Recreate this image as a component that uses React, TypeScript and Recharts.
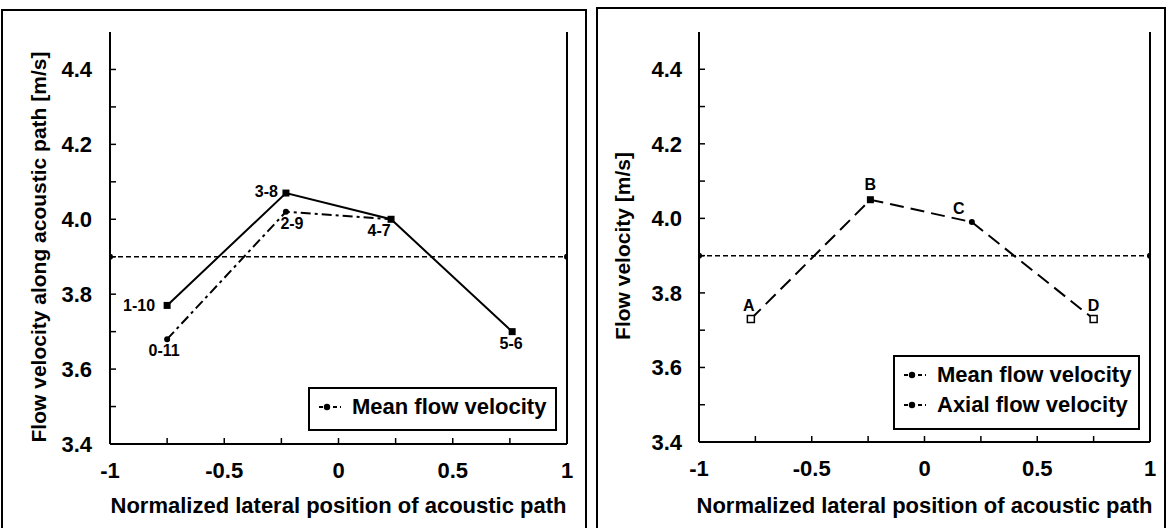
import React from "react";
import { LineChart, Line, XAxis, YAxis, Legend, LabelList } from "recharts";

// left panel: the six acoustic paths of the 12-transducer meter
const pathX = [-0.75, -0.23, 0.23, 0.76];
const solidPaths = ["1-10", "3-8", "4-7", "5-6"];
const solidVel = [3.77, 4.07, 4.0, 3.7];
const dashPathX = [-0.75, -0.23, 0.23];
const dashPaths = ["0-11", "2-9", ""];
const dashVel = [3.68, 4.02, 4.0];

// right panel: points A-D
const pointX = [-0.77, -0.24, 0.21, 0.75];
const pointNames = ["A", "B", "C", "D"];
const axialVel = [3.73, 4.05, 3.99, 3.73];

// mean flow velocity (both panels)
const meanX = [-1, 1];
const meanVel = [3.9, 3.9];

const xTicks = [-1, -0.75, -0.5, -0.25, 0, 0.25, 0.5, 0.75, 1];
const xLabelTicks = [-1, -0.5, 0, 0.5, 1];
const yTicks = [3.4, 3.5, 3.6, 3.7, 3.8, 3.9, 4.0, 4.1, 4.2, 4.3, 4.4];
const yLabelTicks = [3.4, 3.6, 3.8, 4.0, 4.2, 4.4];
const legendOrder = ["Mean flow velocity", "Axial flow velocity"];

const FONT = '"Liberation Sans", Arial, sans-serif';

const solidData = pathX.map((x, i) => ({ x, v: solidVel[i], name: solidPaths[i] }));
const dashData = dashPathX.map((x, i) => ({ x, v: dashVel[i], name: dashPaths[i] }));
const axialData = pointX.map((x, i) => ({ x, v: axialVel[i], name: pointNames[i] }));
const meanData = meanX.map((x, i) => ({ x, v: meanVel[i], name: "" }));

// where each point label sits relative to its marker
const labelPlace: Record<string, { dx: number; dy: number; anchor: string }> = {
  "1-10": { dx: -12, dy: 6, anchor: "end" },
  "0-11": { dx: -3, dy: 17, anchor: "middle" },
  "3-8": { dx: -8, dy: 4, anchor: "end" },
  "2-9": { dx: 6, dy: 17, anchor: "middle" },
  "4-7": { dx: -12, dy: 17, anchor: "middle" },
  "5-6": { dx: -1, dy: 17, anchor: "middle" },
  A: { dx: -2, dy: -8, anchor: "middle" },
  B: { dx: 0, dy: -10, anchor: "middle" },
  C: { dx: -13, dy: -8, anchor: "middle" },
  D: { dx: 0, dy: -8, anchor: "middle" },
};

const markerOf: Record<string, string> = {
  "1-10": "square",
  "3-8": "square",
  "4-7": "square",
  "5-6": "square",
  "0-11": "dot",
  "2-9": "dot",
  A: "open",
  B: "square",
  C: "dot",
  D: "open",
};

const Marker = (p: any) => {
  const { cx, cy, payload, index } = p;
  const kind = markerOf[payload?.name] ?? "none";
  if (cx == null || cy == null || kind === "none") return <g key={`m-${index}`} />;
  if (kind === "square")
    return <rect key={`m-${index}`} x={cx - 3.5} y={cy - 3.5} width={7} height={7} fill="#000" />;
  if (kind === "open")
    return (
      <rect key={`m-${index}`} x={cx - 3.5} y={cy - 3.5} width={7} height={7} fill="#fff" stroke="#000" strokeWidth={1.5} />
    );
  return <circle key={`m-${index}`} cx={cx} cy={cy} r={3} fill="#000" />;
};

const PointLabel = (p: any) => {
  const place = labelPlace[p.value];
  if (!place) return null;
  return (
    <text
      x={p.x + place.dx}
      y={p.y + place.dy}
      textAnchor={place.anchor as any}
      fontFamily={FONT}
      fontSize={16}
      fontWeight={700}
      fill="#000"
    >
      {p.value}
    </text>
  );
};

const LegendBox = (p: any) => {
  const items = (p.payload || [])
    .filter((e: any) => e.type !== "none")
    .sort((a: any, b: any) => legendOrder.indexOf(a.value) - legendOrder.indexOf(b.value));
  return (
    <div
      style={{
        width: p.boxW,
        height: p.boxH,
        boxSizing: "border-box",
        border: "2px solid #000",
        background: "#fff",
        padding: "3px 0 0 8px",
        fontFamily: FONT,
        fontSize: 22,
        fontWeight: 700,
        color: "#000",
        whiteSpace: "nowrap",
      }}
    >
      {items.map((it: any) => (
        <div key={it.value} style={{ display: "flex", alignItems: "center", height: 30 }}>
          <svg width={24} height={12} style={{ marginRight: 10 }}>
            <line x1={1} x2={23} y1={6} y2={6} stroke="#000" strokeWidth={2} strokeDasharray="4 3" />
            <circle cx={9} cy={6} r={3.2} fill="#000" />
          </svg>
          <span>{it.value}</span>
        </div>
      ))}
    </div>
  );
};

const fmtX = (v: number) => (xLabelTicks.includes(v) ? String(v) : "");
const fmtY = (v: number) => (yLabelTicks.some((t) => Math.abs(t - v) < 1e-9) ? v.toFixed(1) : "");

const tickStyle = { fill: "#000", fontSize: 22, fontWeight: 700, fontFamily: FONT };
const axisLine = { stroke: "#000", strokeWidth: 2 };
const tickLine = { stroke: "#000", strokeWidth: 1.5 };

const yTitle = (text: string, bx: number) => (p: any) => {
  const vb = p.viewBox ?? { x: 0, y: 32, width: 110, height: 412 };
  const cx = vb.x + bx;
  const cy = vb.y + vb.height / 2 + 9;
  return (
    <text
      x={cx}
      y={cy}
      transform={`rotate(-90, ${cx}, ${cy})`}
      textAnchor="middle"
      fontFamily={FONT}
      fontSize={21}
      fontWeight={700}
      fill="#000"
    >
      {text}
    </text>
  );
};

const xTitle = (dy: number) => (p: any) => {
  const vb = p.viewBox ?? { x: 110, y: 444, width: 457, height: 84 };
  return (
    <text
      x={vb.x + vb.width / 2}
      y={vb.y + dy}
      textAnchor="middle"
      fontFamily={FONT}
      fontSize={22}
      fontWeight={700}
      fill="#000"
    >
      Normalized lateral position of acoustic path
    </text>
  );
};

function LeftChart() {
  return (
    <LineChart width={585} height={528} margin={{ top: 32, right: 0, bottom: 0, left: 0 }}>
      <XAxis
        xAxisId="b"
        type="number"
        dataKey="x"
        domain={[-1, 1]}
        ticks={xTicks}
        interval={0}
        tickFormatter={fmtX}
        height={84}
        tickSize={-6}
        tickMargin={24}
        tick={tickStyle}
        axisLine={axisLine}
        tickLine={tickLine}
        allowDataOverflow
        label={xTitle(69)}
      />
      <XAxis xAxisId="t" orientation="top" type="number" domain={[-1, 1]} height={0} tick={false} tickLine={false} axisLine={axisLine} />
      <YAxis
        yAxisId="l"
        type="number"
        domain={[3.4, 4.5]}
        ticks={yTicks}
        interval={0}
        tickFormatter={fmtY}
        width={110}
        tickSize={-6}
        tickMargin={24}
        tick={tickStyle}
        axisLine={axisLine}
        tickLine={tickLine}
        allowDataOverflow
        label={yTitle("Flow velocity along acoustic path [m/s]", 46)}
      />
      <YAxis yAxisId="r" orientation="right" type="number" domain={[3.4, 4.5]} width={18} tick={false} tickLine={false} axisLine={axisLine} />
      <Line
        xAxisId="b"
        yAxisId="l"
        data={meanData}
        dataKey="v"
        name="Mean flow velocity"
        stroke="#000"
        strokeWidth={1.5}
        strokeDasharray="5 3"
        dot={{ r: 3, fill: "#000", stroke: "none" }}
        isAnimationActive={false}
      />
      <Line
        xAxisId="b"
        yAxisId="l"
        data={dashData}
        dataKey="v"
        name="paths 0-11, 2-9"
        legendType="none"
        stroke="#000"
        strokeWidth={2}
        strokeDasharray="10 4 3 4"
        dot={Marker}
        isAnimationActive={false}
      >
        <LabelList dataKey="name" content={PointLabel} />
      </Line>
      <Line
        xAxisId="b"
        yAxisId="l"
        data={solidData}
        dataKey="v"
        name="paths 1-10 ... 5-6"
        legendType="none"
        stroke="#000"
        strokeWidth={2}
        dot={Marker}
        isAnimationActive={false}
      >
        <LabelList dataKey="name" content={PointLabel} />
      </Line>
      <Legend
        layout="horizontal"
        verticalAlign="middle"
        align="center"
        wrapperStyle={{ left: 308, top: 387 }}
        content={(p: any) => <LegendBox {...p} boxW={249} boxH={44} />}
      />
    </LineChart>
  );
}

function RightChart() {
  return (
    <LineChart width={580} height={528} margin={{ top: 32, right: 0, bottom: 0, left: 0 }}>
      <XAxis
        xAxisId="b"
        type="number"
        dataKey="x"
        domain={[-1, 1]}
        ticks={xTicks}
        interval={0}
        tickFormatter={fmtX}
        height={86}
        tickSize={-6}
        tickMargin={24}
        tick={tickStyle}
        axisLine={axisLine}
        tickLine={tickLine}
        allowDataOverflow
        label={xTitle(71)}
      />
      <XAxis xAxisId="t" orientation="top" type="number" domain={[-1, 1]} height={0} tick={false} tickLine={false} axisLine={axisLine} />
      <YAxis
        yAxisId="l"
        type="number"
        domain={[3.4, 4.5]}
        ticks={yTicks}
        interval={0}
        tickFormatter={fmtY}
        width={109}
        tickSize={-6}
        tickMargin={23}
        tick={tickStyle}
        axisLine={axisLine}
        tickLine={tickLine}
        allowDataOverflow
        label={yTitle("Flow velocity [m/s]", 40)}
      />
      <YAxis yAxisId="r" orientation="right" type="number" domain={[3.4, 4.5]} width={20} tick={false} tickLine={false} axisLine={axisLine} />
      <Line
        xAxisId="b"
        yAxisId="l"
        data={meanData}
        dataKey="v"
        name="Mean flow velocity"
        stroke="#000"
        strokeWidth={1.5}
        strokeDasharray="5 3"
        dot={{ r: 3, fill: "#000", stroke: "none" }}
        isAnimationActive={false}
      />
      <Line
        xAxisId="b"
        yAxisId="l"
        data={axialData}
        dataKey="v"
        name="Axial flow velocity"
        stroke="#000"
        strokeWidth={2}
        strokeDasharray="14 7"
        dot={Marker}
        isAnimationActive={false}
      >
        <LabelList dataKey="name" content={PointLabel} />
      </Line>
      <Legend
        layout="horizontal"
        verticalAlign="middle"
        align="center"
        wrapperStyle={{ left: 303, top: 355 }}
        content={(p: any) => <LegendBox {...p} boxW={247} boxH={75} />}
      />
    </LineChart>
  );
}

export default function App() {
  return (
    <div style={{ position: "absolute", left: 0, top: 0, width: 1170, height: 528, background: "#fff", overflow: "hidden" }}>
      <div style={{ position: "absolute", left: 1, top: 9, width: 586, height: 540, boxSizing: "border-box", border: "2px solid #000" }} />
      <div style={{ position: "absolute", left: 596, top: 7, width: 570, height: 540, boxSizing: "border-box", border: "2px solid #000" }} />
      <div style={{ position: "absolute", left: 0, top: 0 }}>
        <LeftChart />
      </div>
      <div style={{ position: "absolute", left: 590, top: 0 }}>
        <RightChart />
      </div>
    </div>
  );
}
